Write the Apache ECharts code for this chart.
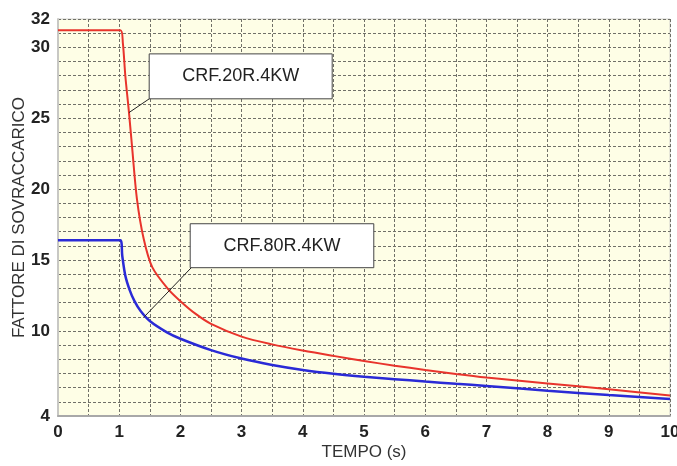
<!DOCTYPE html>
<html><head><meta charset="utf-8">
<script src="https://cdn.jsdelivr.net/npm/echarts@6/dist/echarts.min.js"></script>
<style>html,body{margin:0;padding:0;background:#fff}#c{width:677px;height:466px}</style>
</head><body><div id="c"></div>
<script>
// Data (time s, overload factor)
const redName = 'CRF.20R.4KW';
const redX = [0, 1.02, 1.06, 1.1, 1.16, 1.21, 1.29, 1.4, 1.54, 1.8, 2.0, 2.25, 2.5, 3.0, 3.5, 4.0, 4.5, 5.0, 5.5, 6.0, 6.5, 7.0, 8.0, 9.0, 10];
const redY = [31.2, 31.2, 30.3, 28, 25.4, 23, 19.3, 16.5, 14.5, 12.95, 12.1, 11.2, 10.5, 9.6, 9.05, 8.62, 8.24, 7.88, 7.55, 7.25, 6.97, 6.72, 6.3, 5.88, 5.45];
const blueName = 'CRF.80R.4KW';
const blueX = [0, 1.02, 1.05, 1.1, 1.17, 1.25, 1.35, 1.5, 1.78, 2.0, 2.5, 3.0, 3.5, 4.0, 4.5, 5.0, 5.5, 6.0, 6.5, 7.0, 8.0, 9.0, 10];
const blueY = [16.4, 16.4, 15.3, 13.9, 12.9, 12.1, 11.4, 10.7, 9.9, 9.45, 8.65, 8.05, 7.6, 7.25, 6.98, 6.77, 6.6, 6.43, 6.27, 6.12, 5.78, 5.48, 5.2];
const yTickLabels = [4, 10, 15, 20, 25, 30, 32];
const xTickLabels = [0, 1, 2, 3, 4, 5, 6, 7, 8, 9, 10];
// callouts: box corners in data coords and the curve point the leader reaches
const redBox = {x0: 1.49, x1: 4.48, yTop: 29.54, yBot: 26.37, px: 1.16, py: 25.4};
const blueBox = {x0: 2.16, x1: 5.16, yTop: 17.56, yBot: 14.46, px: 1.41, py: 11.0};

const pair = (xs, ys) => xs.map((x, i) => [x, ys[i]]);
const chart = echarts.init(document.getElementById('c'));
const gridCol = '#707068';
const font = '"Liberation Sans", Arial, sans-serif';
chart.setOption({
  animation: false,
  backgroundColor: '#fff',
  grid: {left: 58, right: 7, top: 19, bottom: 50, outerBoundsMode: 'none', containLabel: false,
    show: true, backgroundColor: '#fefee6', borderColor: '#d0d0cc', borderWidth: 1},
  xAxis: {
    type: 'value', min: 0, max: 10, interval: 0.5,
    name: 'TEMPO (s)', nameLocation: 'middle', nameGap: 28, nameMoveOverlap: false,
    nameTextStyle: {fontFamily: font, fontSize: 17, color: '#333'},
    axisLine: {show: true, lineStyle: {color: '#a8a8a8', width: 2}},
    axisTick: {show: false},
    axisLabel: {margin: 8, fontFamily: font, fontWeight: 'bold', fontSize: 17, color: '#222',
      formatter: v => xTickLabels.indexOf(v) >= 0 ? String(v) : ''},
    splitLine: {show: true, lineStyle: {color: gridCol, type: [3, 2], width: 1}}
  },
  yAxis: {
    type: 'value', min: 4, max: 32, interval: 1,
    name: 'FATTORE DI SOVRACCARICO', nameLocation: 'middle', nameGap: 30, nameMoveOverlap: false,
    nameTextStyle: {fontFamily: font, fontSize: 17, color: '#333'},
    axisLine: {show: true, lineStyle: {color: '#c8c8c4', width: 2}},
    axisTick: {show: false},
    axisLabel: {margin: 8, fontFamily: font, fontWeight: 'bold', fontSize: 17, color: '#222',
      formatter: v => yTickLabels.indexOf(v) >= 0 ? String(v) : ''},
    splitLine: {show: true, lineStyle: {color: gridCol, type: [3, 2], width: 1}}
  },
  series: [
    {name: redName, type: 'line', data: pair(redX, redY), smooth: 0.3, showSymbol: false, lineStyle: {color: '#e8342c', width: 2}},
    {name: blueName, type: 'line', data: pair(blueX, blueY), smooth: 0.3, showSymbol: false, lineStyle: {color: '#2a2ad6', width: 2.5}}
  ]
});

function callout(b, label) {
  const tl = chart.convertToPixel({gridIndex: 0}, [b.x0, b.yTop]);
  const br = chart.convertToPixel({gridIndex: 0}, [b.x1, b.yBot]);
  const pt = chart.convertToPixel({gridIndex: 0}, [b.px, b.py]);
  return [
    {type: 'line', z: 10, shape: {x1: tl[0] + 3, y1: br[1] - 2, x2: pt[0], y2: pt[1]}, style: {stroke: '#222', lineWidth: 1}},
    {type: 'rect', z: 11, shape: {x: tl[0], y: tl[1], width: br[0] - tl[0], height: br[1] - tl[1]}, style: {fill: '#fff', stroke: '#444', lineWidth: 1}},
    {type: 'text', z: 12, x: (tl[0] + br[0]) / 2, y: (tl[1] + br[1]) / 2,
      style: {text: label, fill: '#222', font: '18px ' + font, align: 'center', verticalAlign: 'middle'}}
  ];
}
chart.setOption({graphic: callout(redBox, redName).concat(callout(blueBox, blueName))});
</script></body></html>
